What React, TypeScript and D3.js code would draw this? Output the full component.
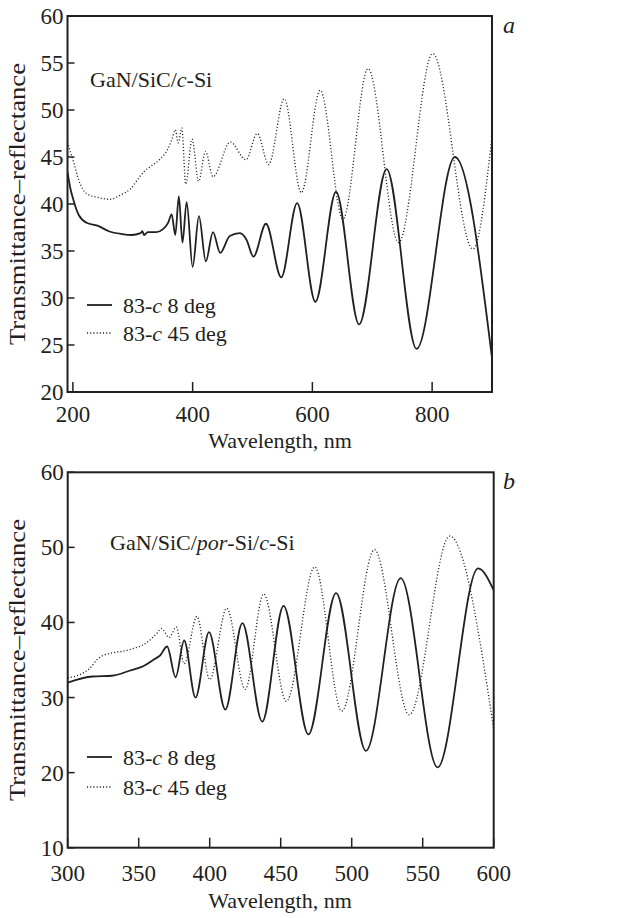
import React from "react";
import * as d3 from "d3";

// ---------- Panel a: GaN/SiC/c-Si ----------
const topSolidWl = [191, 196, 201, 210, 223, 241, 260, 282, 298, 313, 316, 319, 325, 339, 350, 359, 365, 371, 377, 383, 390, 400, 410.5, 422, 434, 446, 462, 479, 490, 501.5, 522.5, 548, 574.5, 605, 639.5, 678, 724, 774, 838, 900];
const topSolidVal = [43.4, 41.6, 40.4, 38.8, 38.0, 37.7, 37.1, 36.8, 36.7, 36.9, 37.1, 36.7, 37.0, 37.0, 37.3, 38.0, 38.9, 36.7, 40.8, 35.9, 40.2, 33.3, 38.7, 33.9, 37.0, 34.8, 36.6, 36.9, 36.2, 34.4, 37.9, 32.2, 40.1, 29.6, 41.3, 27.2, 43.7, 24.6, 45.0, 23.6];

const topDotWl = [191, 196, 201, 210, 223, 242, 262, 278, 296, 318, 332, 346, 359, 366, 371, 376, 382, 388.5, 399, 410, 421.5, 434, 463, 489, 508, 527, 553, 581.5, 613, 651, 693, 744, 801, 868, 900];
const topDotVal = [46.6, 45.5, 44.5, 42.5, 41.1, 40.7, 40.5, 40.9, 41.6, 43.4, 44.1, 44.8, 45.9, 47.0, 47.9, 46.5, 48.1, 42.1, 46.9, 42.4, 45.6, 42.9, 46.6, 44.7, 47.5, 44.2, 51.2, 41.2, 52.1, 38.4, 54.4, 35.9, 56.0, 35.2, 47.2];

const topXTicks = [200, 400, 600, 800];
const topYTicks = [20, 25, 30, 35, 40, 45, 50, 55, 60];

// ---------- Panel b: GaN/SiC/por-Si/c-Si ----------
const botSolidWl = [300, 317.5, 331, 344, 353.5, 361, 365, 370, 376, 382, 390, 399.5, 411, 423, 437, 452, 469.5, 489, 510, 534.5, 560.5, 589, 600];
const botSolidVal = [32.0, 32.8, 32.9, 33.6, 34.2, 35.1, 35.6, 36.8, 32.7, 37.6, 30.0, 38.7, 28.4, 39.9, 26.8, 42.2, 25.1, 43.9, 22.9, 45.9, 20.7, 47.2, 44.3];

const botDotWl = [300, 315, 321, 325, 344, 355.5, 363, 366, 371.5, 376.5, 382, 391, 400, 412, 425, 438, 454, 474, 493, 516, 540.5, 569, 600];
const botDotVal = [32.6, 33.8, 35.1, 35.6, 36.4, 37.3, 38.6, 39.2, 38.0, 39.4, 34.5, 40.8, 32.4, 41.9, 31.1, 43.8, 29.5, 47.4, 28.2, 49.7, 27.7, 51.5, 25.8];

const botXTicks = [300, 350, 400, 450, 500, 550, 600];
const botYTicks = [10, 20, 30, 40, 50, 60];

const FONT = "Liberation Serif, DejaVu Serif, serif";
const INK = "#231f20";

type PanelProps = {
  xDomain: [number, number];
  yDomain: [number, number];
  left: number;
  right: number;
  top: number;
  bottom: number;
  xTicks: number[];
  yTicks: number[];
  solidWl: number[];
  solidVal: number[];
  dotWl: number[];
  dotVal: number[];
  letter: string;
  annotation: React.ReactNode;
  annX: number;
  annY: number;
  legY1: number;
  legY2: number;
  xLabelGap: number;
  titleY: number;
};

const txt = { fontFamily: FONT, fill: INK } as React.CSSProperties;

function Panel(p: PanelProps) {
  const x = d3.scaleLinear().domain(p.xDomain).range([p.left, p.right]);
  const y = d3.scaleLinear().domain(p.yDomain).range([p.bottom, p.top]);
  const line = d3
    .line<[number, number]>()
    .x((d) => x(d[0]))
    .y((d) => y(d[1]))
    .curve(d3.curveMonotoneX);
  const solid = line(p.solidWl.map((w, i) => [w, p.solidVal[i]] as [number, number])) || "";
  const dotted = line(p.dotWl.map((w, i) => [w, p.dotVal[i]] as [number, number])) || "";
  const clipId = "clip-" + p.letter;
  const midY = (p.top + p.bottom) / 2;
  return (
    <g>
      <defs>
        <clipPath id={clipId}>
          <rect x={p.left} y={p.top} width={p.right - p.left} height={p.bottom - p.top} />
        </clipPath>
      </defs>
      <g clipPath={`url(#${clipId})`}>
        <path d={dotted} fill="none" stroke={INK} strokeWidth={1.3} strokeDasharray="1.1 2.1" />
        <path d={solid} fill="none" stroke={INK} strokeWidth={1.8} />
      </g>
      <rect x={p.left} y={p.top} width={p.right - p.left} height={p.bottom - p.top} fill="none" stroke={INK} strokeWidth={2} />
      {p.yTicks.map((t) => (
        <g key={"y" + t}>
          <line x1={p.left} x2={p.left + 7} y1={y(t)} y2={y(t)} stroke={INK} strokeWidth={1.5} />
          <text x={p.left - 4} y={y(t) + 8} textAnchor="end" fontSize={23} style={txt}>
            {t}
          </text>
        </g>
      ))}
      {p.xTicks.map((t) => (
        <g key={"x" + t}>
          <line x1={x(t)} x2={x(t)} y1={p.bottom} y2={p.bottom - 10} stroke={INK} strokeWidth={1.5} />
          <text x={x(t)} y={p.bottom + p.xLabelGap} textAnchor="middle" fontSize={23} style={txt}>
            {t}
          </text>
        </g>
      ))}
      <text x={280} y={p.titleY} textAnchor="middle" fontSize={22} style={txt}>
        Wavelength, nm
      </text>
      <text
        transform={`translate(${25},${midY}) rotate(-90)`}
        textAnchor="middle"
        fontSize={24}
        style={txt}
        textLength={282}
        lengthAdjust="spacingAndGlyphs"
      >
        Transmittance–reflectance
      </text>
      <text x={503} y={p.top + 17} fontSize={24} fontStyle="italic" style={txt}>
        {p.letter}
      </text>
      <text x={p.annX} y={p.annY} fontSize={22} style={txt}>
        {p.annotation}
      </text>
      <line x1={87} x2={112} y1={p.legY1} y2={p.legY1} stroke={INK} strokeWidth={1.8} />
      <text x={123} y={p.legY1 + 8} fontSize={22} style={txt}>
        83-<tspan fontStyle="italic">c</tspan> 8 deg
      </text>
      <line x1={87} x2={111} y1={p.legY2} y2={p.legY2} stroke={INK} strokeWidth={1.3} strokeDasharray="1.1 2.1" />
      <text x={123} y={p.legY2 + 8} fontSize={22} style={txt}>
        83-<tspan fontStyle="italic">c</tspan> 45 deg
      </text>
    </g>
  );
}

export default function App() {
  return (
    <svg
      width={642}
      height={918}
      viewBox="0 0 642 918"
      style={{ position: "absolute", left: 0, top: 0, background: "#fff" }}
    >
      <rect x={0} y={0} width={642} height={918} fill="#fff" />
      <Panel
        xDomain={[191, 900]}
        yDomain={[20, 60]}
        left={67.5}
        right={492}
        top={16}
        bottom={392}
        xTicks={topXTicks}
        yTicks={topYTicks}
        solidWl={topSolidWl}
        solidVal={topSolidVal}
        dotWl={topDotWl}
        dotVal={topDotVal}
        letter="a"
        annotation={
          <>
            GaN/SiC/<tspan fontStyle="italic">c</tspan>-Si
          </>
        }
        annX={90}
        annY={87}
        legY1={305}
        legY2={333}
        xLabelGap={30}
        titleY={448}
      />
      <Panel
        xDomain={[300, 600]}
        yDomain={[10, 60]}
        left={67.7}
        right={493.7}
        top={472.3}
        bottom={847.7}
        xTicks={botXTicks}
        yTicks={botYTicks}
        solidWl={botSolidWl}
        solidVal={botSolidVal}
        dotWl={botDotWl}
        dotVal={botDotVal}
        letter="b"
        annotation={
          <>
            GaN/SiC/<tspan fontStyle="italic">por</tspan>-Si/<tspan fontStyle="italic">c</tspan>-Si
          </>
        }
        annX={110}
        annY={550}
        legY1={757}
        legY2={787}
        xLabelGap={33}
        titleY={908}
      />
    </svg>
  );
}
